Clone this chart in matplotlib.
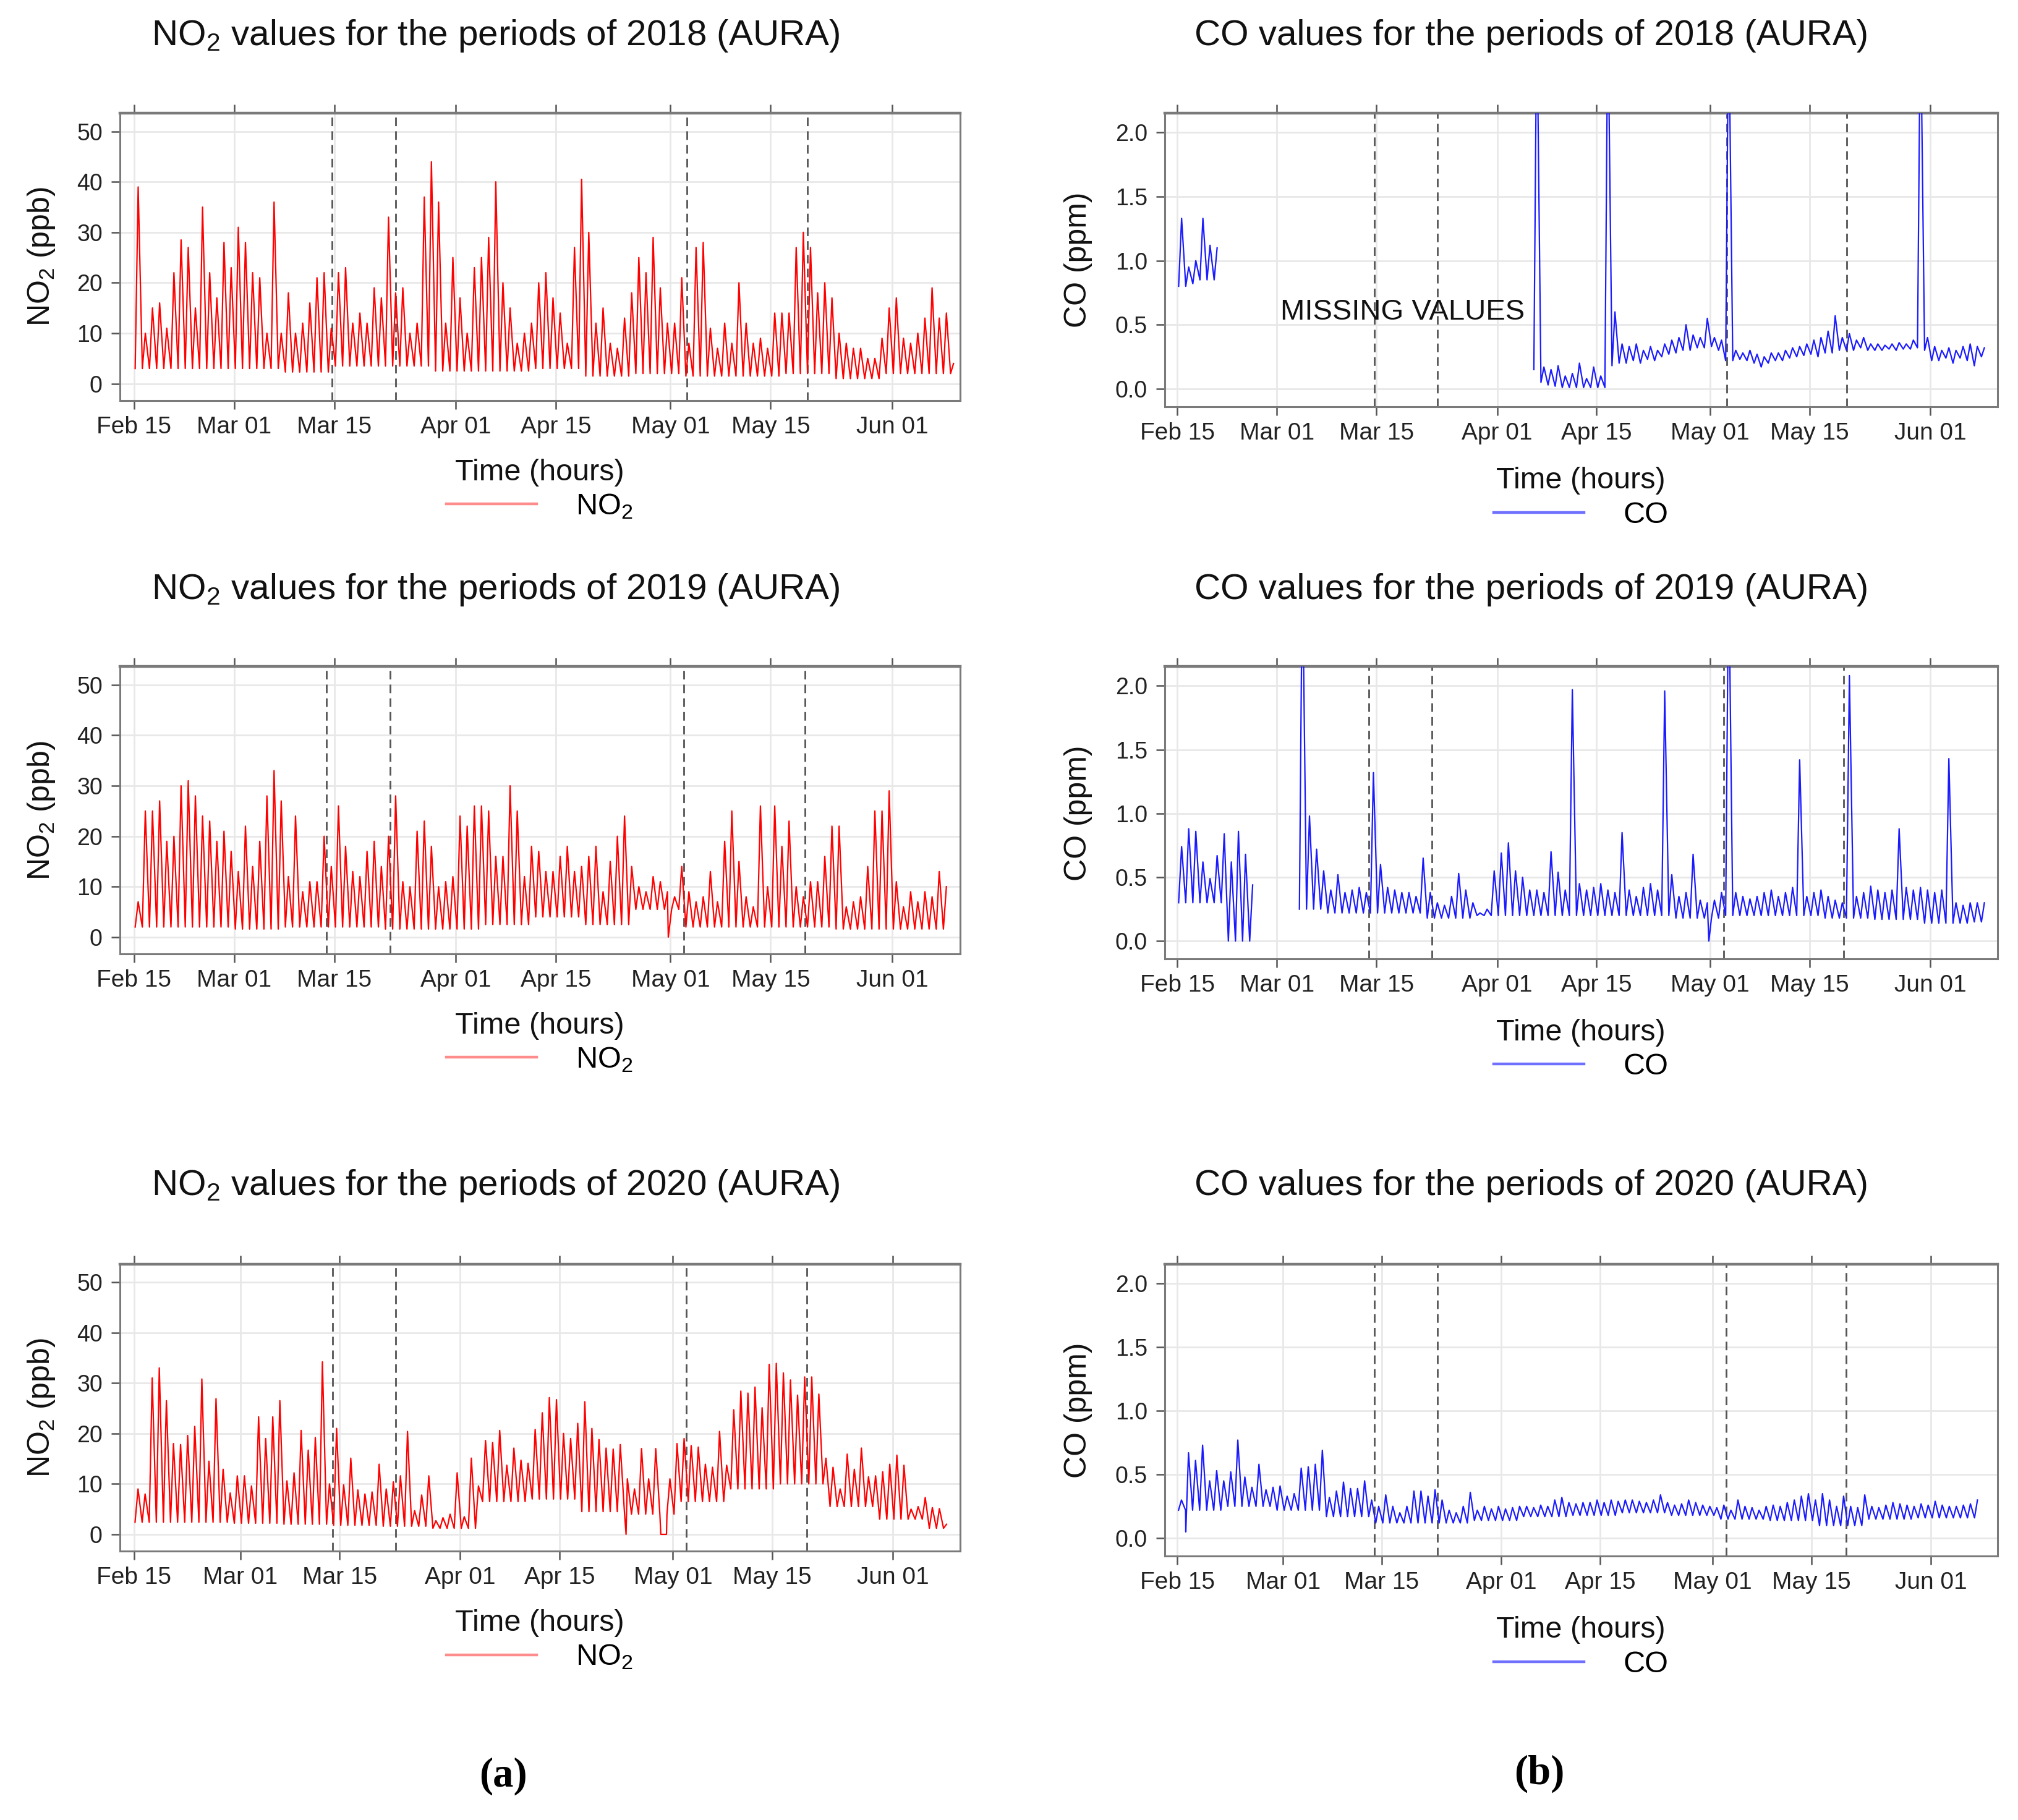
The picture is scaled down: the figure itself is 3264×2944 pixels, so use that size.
import numpy as np
import matplotlib
matplotlib.use("Agg")
import matplotlib.pyplot as plt
from matplotlib.lines import Line2D
from matplotlib.ticker import FormatStrFormatter

plt.rcParams['font.family'] = ['Liberation Sans', 'DejaVu Sans']
plt.rcParams['mathtext.fontset'] = 'custom'
plt.rcParams['mathtext.rm'] = 'Liberation Sans'
plt.rcParams['mathtext.it'] = 'Liberation Sans:italic'
plt.rcParams['mathtext.bf'] = 'Liberation Sans:bold'

years = [2018, 2019, 2020]
tick_dates = ['02-15', '03-01', '03-15', '04-01', '04-15', '05-01', '05-15', '06-01']
tick_labels = ['Feb 15', 'Mar 01', 'Mar 15', 'Apr 01', 'Apr 15', 'May 01', 'May 15', 'Jun 01']

# dashed period limits, in days after Feb 15
period_days = {2018: [27.7, 36.6, 77.3, 94.2],
               2019: [26.9, 35.8, 76.9, 93.8],
               2020: [28.0, 36.9, 77.9, 94.9]}

# daily maxima (day 0 = Feb 15), lows given per week
no2_2018_peak = [39, 10, 15, 16, 11, 22, 28.5, 27, 15, 35,
                 22, 17, 28, 23, 31, 28, 22, 21, 10, 36,
                 10, 18, 10, 12, 16, 21, 22, 11, 22, 23,
                 12, 14, 12, 19, 17, 33, 18, 19, 10, 12,
                 37, 44, 36, 12, 25, 17, 10, 23, 25, 29,
                 40, 20, 15, 8, 10, 12, 20, 22, 17, 14,
                 8, 27, 40.5, 30, 12, 15, 8, 7, 13, 18,
                 25, 22, 29, 19, 12, 12, 21, 8, 27, 28,
                 11, 7, 12, 8, 20, 12, 8, 9, 7, 14,
                 14, 14, 27, 30, 27, 18, 20, 17, 10, 8,
                 7, 7, 5, 5, 9, 15, 17, 9, 8, 10,
                 13, 19, 13, 14, 4]
no2_2018_low = [3.0, 3.0, 3.0, 2.3, 3.5, 3.5, 2.5, 2.5, 3.0, 1.5, 2.0, 1.5, 1.5, 2.0, 1.0, 2.0, 2.0]

no2_2019_peak = [7, 25, 25, 27, 19, 20, 30, 31, 28, 24,
                 23, 19, 21, 17, 13, 22, 14, 19, 28, 33,
                 27, 12, 24, 9, 11, 11, 20, 14, 26, 18,
                 13, 12, 17, 19, 14, 20, 28, 11, 10, 21,
                 23, 18, 10, 11, 12, 24, 22, 26, 26, 25,
                 16, 16, 30, 25, 12, 18, 17, 13, 13, 16,
                 18, 13, 14, 16, 18, 9, 15, 20, 24, 14,
                 10, 9, 12, 11, 9, 8, 14, 9, 7, 8,
                 13, 7, 19, 25, 15, 8, 6, 26, 10, 26,
                 18, 23, 10, 8, 11, 11, 16, 22, 22, 6,
                 7, 8, 14, 25, 25, 29, 11, 6, 9, 7,
                 9, 8, 13, 10]
no2_2019_low = [2.0, 2.0, 1.6, 2.0, 2.0, 1.6, 1.6, 2.5, 4.0, 2.5, 5.5, 2.0, 2.0, 2.0, 1.6, 1.6, 1.6]
no2_2019_dips = [(74.7, 0.0)]

no2_2020_peak = [9, 8, 31, 33, 26.5, 18, 17.8, 19.6, 21.4, 30.8,
                 14.5, 26.9, 12.9, 8.2, 11.6, 11.6, 9.6, 23.3, 19, 23.3,
                 26.5, 10.6, 12.2, 20.6, 16.7, 19.2, 34.2, 10, 21, 9.8,
                 15.1, 8.8, 8, 8.4, 13.9, 9, 10.4, 11.6, 20.4, 4.7,
                 7.8, 11.6, 2.7, 3.3, 4, 12.2, 3.5, 15.1, 9.6, 18.6,
                 18.2, 20.6, 13.7, 17.1, 14.7, 14.1, 20.8, 24.1, 27.1, 26.7,
                 20, 19, 22, 26.3, 21, 18.8, 17.1, 16.9, 17.8, 11,
                 9, 17, 11, 17, 0, 11, 18, 19, 17.6, 17.3,
                 13.9, 13.3, 20.4, 13.7, 24.7, 28.4, 28, 29.2, 25.1, 33.7,
                 33.9, 32, 30.6, 27.6, 31.2, 31.2, 27.8, 15.1, 13.3, 9,
                 15.9, 12.9, 17.1, 11.4, 11.6, 12.4, 13.9, 15.7, 13.7, 5,
                 5.5, 7.3, 5.3, 5.1, 2]
no2_2020_low = [2.4, 2.4, 2.2, 2.0, 1.8, 1.6, 1.2, 6.5, 7.0, 4.5, 4.0, 6.5, 9.0, 10.0, 5.5, 3.0, 1.2]
no2_2020_dips = [(69.4, 0.0), (74.3, 0.0), (75.1, 0.0)]

co_2018_peak = [1.33, 0.95, 1.0, 1.33, 1.12, 1.10] + [None] * 44 + [
                3.0, 0.17, 0.15, 0.18, 0.1, 0.12, 0.2, 0.08, 0.17, 0.1,
                3.0, 0.6, 0.35, 0.33, 0.35, 0.3, 0.33, 0.3, 0.35, 0.38,
                0.4, 0.5, 0.42, 0.4, 0.55, 0.4, 0.38, 3.0, 0.3, 0.28,
                0.3, 0.27, 0.25, 0.28, 0.28, 0.3, 0.32, 0.33, 0.35, 0.38,
                0.4, 0.45, 0.57, 0.4, 0.43, 0.38, 0.4, 0.35, 0.35, 0.34,
                0.35, 0.36, 0.35, 0.38, 3.0, 0.4, 0.33, 0.3, 0.32, 0.3,
                0.33, 0.35, 0.33, 0.32]
co_2018_low = [0.8, 0.8, 0.82, 0.85, 0.85, 0.85] + [None] * 44 + [
               0.15, 0.05, 0.03, 0.02, 0.01, 0.01, 0.01, 0.01, 0.01, 0.01,
               0.01, 0.18, 0.2, 0.2, 0.22, 0.2, 0.23, 0.22, 0.25, 0.27,
               0.28, 0.3, 0.3, 0.32, 0.32, 0.33, 0.3, 0.22, 0.22, 0.23,
               0.22, 0.2, 0.17, 0.2, 0.22, 0.22, 0.24, 0.25, 0.26, 0.27,
               0.25, 0.28, 0.28, 0.3, 0.3, 0.3, 0.32, 0.3, 0.3, 0.3,
               0.31, 0.3, 0.31, 0.31, 0.32, 0.3, 0.22, 0.22, 0.24, 0.2,
               0.24, 0.22, 0.18, 0.25]

co_2019_peak = [0.74, 0.88, 0.86, 0.62, 0.49, 0.67, 0.84, 0.62, 0.86, 0.68,
                0.44, None, None, None, None, None, None, 3.0, 0.98, 0.72,
                0.55, 0.4, 0.52, 0.38, 0.4, 0.42, 0.38, 1.32, 0.6, 0.42,
                0.4, 0.38, 0.38, 0.35, 0.65, 0.38, 0.3, 0.28, 0.35, 0.53,
                0.4, 0.3, 0.22, 0.25, 0.55, 0.69, 0.77, 0.55, 0.5, 0.4,
                0.4, 0.38, 0.7, 0.54, 0.4, 1.97, 0.45, 0.4, 0.42, 0.45,
                0.4, 0.38, 0.85, 0.4, 0.35, 0.42, 0.45, 0.4, 1.96, 0.52,
                0.35, 0.38, 0.68, 0.32, 0.3, 0.32, 0.38, 3.0, 0.38, 0.35,
                0.33, 0.35, 0.38, 0.4, 0.35, 0.38, 0.42, 1.42, 0.35, 0.38,
                0.4, 0.35, 0.32, 0.3, 2.08, 0.35, 0.38, 0.43, 0.4, 0.38,
                0.4, 0.88, 0.42, 0.4, 0.42, 0.4, 0.38, 0.4, 1.43, 0.3,
                0.28, 0.3, 0.3, 0.3]
co_2019_low = [0.3, 0.0, 0.25, 0.22, 0.22, 0.18, 0.2, 0.2, 0.2, 0.2, 0.18, 0.2, 0.2, 0.18, 0.17, 0.14, 0.15]
co_2019_dips = [(74.8, 0.0)]

co_2020_peak = [0.3, 0.67, 0.61, 0.73, 0.45, 0.53, 0.45, 0.52, 0.77, 0.48,
                0.4, 0.58, 0.38, 0.4, 0.41, 0.33, 0.35, 0.55, 0.56, 0.58,
                0.69, 0.32, 0.37, 0.44, 0.39, 0.39, 0.45, 0.3, 0.25, 0.34,
                0.25, 0.2, 0.25, 0.37, 0.37, 0.33, 0.38, 0.3, 0.22, 0.2,
                0.25, 0.36, 0.22, 0.25, 0.23, 0.25, 0.23, 0.24, 0.25, 0.25,
                0.24, 0.26, 0.25, 0.3, 0.32, 0.28, 0.27, 0.28, 0.28, 0.3,
                0.28, 0.3, 0.29, 0.3, 0.3, 0.29, 0.28, 0.3, 0.34, 0.28,
                0.26, 0.27, 0.3, 0.28, 0.26, 0.25, 0.24, 0.26, 0.22, 0.3,
                0.25, 0.24, 0.22, 0.25, 0.26, 0.25, 0.28, 0.3, 0.33, 0.35,
                0.3, 0.35, 0.3, 0.25, 0.33, 0.25, 0.24, 0.34, 0.25, 0.24,
                0.26, 0.28, 0.27, 0.26, 0.25, 0.27, 0.26, 0.29, 0.26, 0.25,
                0.25, 0.26, 0.27, 0.3]
co_2020_low = [0.22, 0.25, 0.22, 0.17, 0.12, 0.12, 0.14, 0.17, 0.18, 0.2, 0.18, 0.15, 0.14, 0.1, 0.15, 0.16, 0.16]
co_2020_dips = [(1.2, 0.05)]


def hourly(year, peaks, lows, dips=()):
    # low in the early morning, maximum in the afternoon of every day
    pk = np.array([np.nan if v is None else v for v in peaks], float)
    lo = np.array([np.nan if v is None else v for v in lows], float)
    if len(lo) != len(pk):
        lo = np.repeat(lo, 7)[:len(pk)]
    lo[np.isnan(pk)] = np.nan
    d = np.arange(len(pk))
    t = np.concatenate([d + 4 / 24, d + 14 / 24, [p[0] for p in dips]])
    v = np.concatenate([lo, pk, [p[1] for p in dips]])
    k = np.argsort(t)
    t0 = np.datetime64(f'{year}-02-15T00:00')
    return t0 + (t[k] * 1440).astype(int).astype('timedelta64[m]'), v[k]


no2 = {2018: hourly(2018, no2_2018_peak, no2_2018_low),
       2019: hourly(2019, no2_2019_peak, no2_2019_low, no2_2019_dips),
       2020: hourly(2020, no2_2020_peak, no2_2020_low, no2_2020_dips)}
co = {2018: hourly(2018, co_2018_peak, co_2018_low),
      2019: hourly(2019, co_2019_peak, co_2019_low, co_2019_dips),
      2020: hourly(2020, co_2020_peak, co_2020_low, co_2020_dips)}

fig = plt.figure(figsize=(16.32, 14.72), dpi=200)

W, H = 1568.0, 1414.0
left_rows = [(88, 311), (518, 741), (982, 1205)]
right_rows = [(88, 316), (518, 745), (982, 1209)]
title_y = [28, 458, 921]


def panel(rect, year, series, color, legcolor, ylab, ylim, yticks, fmt, legname, xl, ylx):
    ax = fig.add_axes(rect)
    t, v = series
    ax.plot(t, v, color=color, lw=0.8, zorder=3)
    t0 = np.datetime64(f'{year}-02-15T00:00')
    for d in period_days[year]:
        ax.axvline(t0 + np.timedelta64(int(d * 1440), 'm'), color='#555555',
                   lw=1.0, ls=(0, (5, 3)), zorder=2)
    ax.set_xticks([np.datetime64(f'{year}-{s}') for s in tick_dates])
    ax.set_xticklabels(tick_labels)
    ax.set_xlim(np.datetime64(f'{year}-{xl[0]}'), np.datetime64(f'{year}-{xl[1]}'))
    ax.set_ylim(*ylim)
    ax.set_yticks(yticks)
    ax.yaxis.set_major_formatter(FormatStrFormatter(fmt))
    ax.grid(color='#e8e8e8', lw=1.0, zorder=0)
    ax.tick_params(axis='x', top=True, direction='out', length=5, width=0.9,
                   color='#555555', labelsize=14, labelcolor='#222222', pad=4)
    ax.tick_params(axis='y', direction='out', length=5, width=0.9,
                   color='#555555', labelsize=13.5, labelcolor='#222222', pad=5)
    for s in ax.spines.values():
        s.set_color('#7a7a7a')
        s.set_linewidth(1.1)
    ax.spines['top'].set_linewidth(1.6)
    ax.set_ylabel(ylab, fontsize=18, color='#111111', va='center')
    ax.yaxis.set_label_coords(ylx, 0.5)
    ax.text(0.5, -0.252, 'Time (hours)', transform=ax.transAxes,
            ha='center', va='center', fontsize=17.5, color='#111111')
    h = Line2D([], [], color=legcolor, lw=1.6)
    ax.legend([h], [legname], loc='center', bbox_to_anchor=(0.5, -0.37),
              frameon=False, fontsize=17.5, handlelength=3.0, handletextpad=1.3,
              borderaxespad=0, borderpad=0)
    return ax


for i, y in enumerate(years):
    top, bot = left_rows[i]
    rect = [93 / W, 1 - bot / H, (746 - 93) / W, (bot - top) / H]
    panel(rect, y, no2[y], '#ff0000', '#ff8c8c', r'NO$_2$ (ppb)', (-3.3, 53.6),
          [0, 10, 20, 30, 40, 50], '%d', r'NO$_2$', ('02-13T00', '06-10T12'), -0.093)
    fig.text(385 / W, 1 - title_y[i] / H, rf'NO$_2$ values for the periods of {y} (AURA)',
             ha='center', va='center', fontsize=21, color='#111111')

    top, bot = right_rows[i]
    rect = [905 / W, 1 - bot / H, (1552 - 905) / W, (bot - top) / H]
    ax = panel(rect, y, co[y], '#1a1aff', '#7070ff', 'CO (ppm)', (-0.14, 2.15),
               [0.0, 0.5, 1.0, 1.5, 2.0], '%.1f', 'CO', ('02-13T05', '06-10T10'), -0.104)
    fig.text(1190 / W, 1 - title_y[i] / H, f'CO values for the periods of {y} (AURA)',
             ha='center', va='center', fontsize=21, color='#111111')
    if y == 2018:
        ax.text(np.datetime64('2018-03-01T12'), 0.6, 'MISSING VALUES',
                ha='left', va='center', fontsize=17, color='#111111')

fig.text(391 / W, 1 - 1380 / H, '(a)', ha='center', va='center', fontsize=24,
         family='Liberation Serif', weight='bold')
fig.text(1196 / W, 1 - 1378 / H, '(b)', ha='center', va='center', fontsize=24,
         family='Liberation Serif', weight='bold')

fig.savefig('out.png', dpi=200, facecolor='white')
